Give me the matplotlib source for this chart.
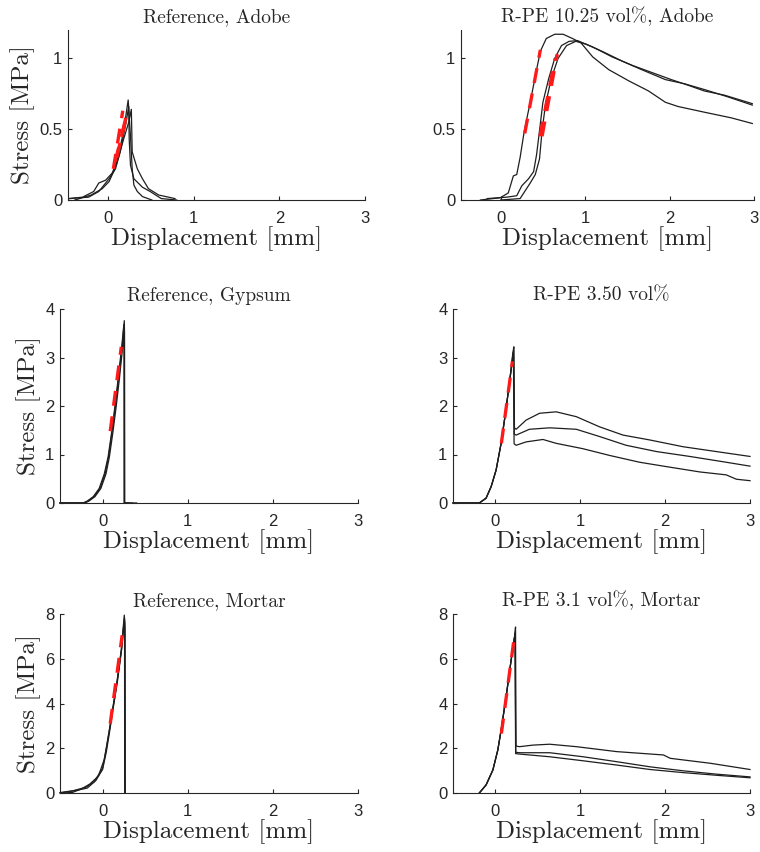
import matplotlib
matplotlib.use('Agg')
import matplotlib.pyplot as plt

plt.rcParams['axes.formatter.use_mathtext'] = True
plt.rcParams['mathtext.fontset'] = 'cm'

# ---------------- data ----------------
titles = ["Reference, Adobe", "R-PE 10.25 vol%, Adobe",
          "Reference, Gypsum", "R-PE 3.50 vol%",
          "Reference, Mortar", "R-PE 3.1 vol%, Mortar"]
x_label = "Displacement [mm]"
y_label = "Stress [MPa]"
x_ticks = [0, 1, 2, 3]
x_tick_labels = ["0", "1", "2", "3"]
y_ticks_adobe = [0, 0.5, 1]
y_tick_labels_adobe = ["0", "0.5", "1"]
y_ticks_gypsum = [0, 1, 2, 3, 4]
y_tick_labels_gypsum = ["0", "1", "2", "3", "4"]
y_ticks_mortar = [0, 2, 4, 6, 8]
y_tick_labels_mortar = ["0", "2", "4", "6", "8"]

# Panel 1: Reference, Adobe
ref_adobe_1_x = [-0.46, -0.3, -0.17, -0.11, -0.03, 0.046, 0.1, 0.16, 0.2, 0.233, 0.26, 0.28, 0.30, 0.34, 0.40, 0.51]
ref_adobe_1_y = [0.01, 0.02, 0.06, 0.12, 0.14, 0.19, 0.27, 0.43, 0.57, 0.706, 0.45, 0.22, 0.105, 0.06, 0.024, 0.0]
ref_adobe_2_x = [-0.39, -0.2, -0.07, 0.01, 0.07, 0.12, 0.18, 0.24, 0.27, 0.28, 0.34, 0.40, 0.47, 0.59, 0.78]
ref_adobe_2_y = [0.0, 0.035, 0.08, 0.13, 0.21, 0.30, 0.43, 0.55, 0.64, 0.34, 0.22, 0.15, 0.08, 0.035, 0.01]
ref_adobe_3_x = [-0.46, -0.23, -0.11, 0.01, 0.085, 0.14, 0.2, 0.24, 0.245, 0.26, 0.30, 0.40, 0.49, 0.62, 0.80]
ref_adobe_3_y = [0.01, 0.02, 0.06, 0.15, 0.22, 0.34, 0.52, 0.66, 0.43, 0.245, 0.15, 0.09, 0.06, 0.01, 0.0]
fit_ref_adobe_x = [[0.06, 0.17], [0.08, 0.21], [0.10, 0.22]]
fit_ref_adobe_y = [[0.22, 0.63], [0.27, 0.58], [0.30, 0.62]]

# Panel 2: R-PE 10.25 vol%, Adobe
rpe_adobe_1_x = [-0.24, -0.004, 0.09, 0.15, 0.19, 0.23, 0.28, 0.35, 0.425, 0.47, 0.54, 0.64, 0.74, 0.85, 0.95,
                 1.09, 1.28, 1.52, 1.75, 1.95, 2.1, 2.41, 2.73, 2.98]
rpe_adobe_1_y = [0.0, 0.016, 0.05, 0.17, 0.18, 0.30, 0.49, 0.69, 0.92, 1.05, 1.14, 1.17, 1.17, 1.14, 1.11,
                 1.01, 0.92, 0.84, 0.77, 0.69, 0.66, 0.62, 0.58, 0.54]
rpe_adobe_2_x = [-0.16, 0.07, 0.19, 0.25, 0.33, 0.39, 0.425, 0.46, 0.50, 0.57, 0.64, 0.72, 0.81, 0.91,
                 1.09, 1.32, 1.56, 1.79, 2.02, 2.22, 2.41, 2.65, 2.98]
rpe_adobe_2_y = [0.01, 0.02, 0.03, 0.10, 0.15, 0.20, 0.32, 0.49, 0.69, 0.86, 1.0, 1.09, 1.12, 1.125,
                 1.08, 1.01, 0.95, 0.90, 0.85, 0.81, 0.77, 0.74, 0.68]
rpe_adobe_3_x = [0.0, 0.23, 0.35, 0.41, 0.46, 0.49, 0.53, 0.60, 0.68, 0.78, 0.89, 1.01, 1.2, 1.44, 1.67,
                 1.95, 2.18, 2.41, 2.68, 2.98]
rpe_adobe_3_y = [0.0, 0.01, 0.12, 0.18, 0.29, 0.49, 0.67, 0.86, 1.0, 1.09, 1.12, 1.10, 1.05, 0.98, 0.92,
                 0.85, 0.82, 0.78, 0.73, 0.67]
fit_rpe_adobe_x = [[0.285, 0.47], [0.465, 0.645], [0.49, 0.67]]
fit_rpe_adobe_y = [[0.47, 1.06], [0.45, 1.00], [0.45, 1.03]]

# Panel 3: Reference, Gypsum
ref_gyp_1_x = [-0.5, -0.22, -0.17, -0.1, -0.03, 0.03, 0.07, 0.11, 0.15, 0.19, 0.23, 0.255, 0.258, 0.26, 0.40]
ref_gyp_1_y = [0.0, 0.0, 0.04, 0.13, 0.30, 0.60, 0.95, 1.44, 1.99, 2.60, 3.22, 3.76, 3.5, 0.0, 0.0]
ref_gyp_2_x = [-0.5, -0.21, -0.16, -0.09, -0.02, 0.04, 0.08, 0.12, 0.16, 0.20, 0.235, 0.25, 0.252, 0.253, 0.35]
ref_gyp_2_y = [0.0, 0.0, 0.04, 0.13, 0.30, 0.60, 0.95, 1.44, 1.99, 2.60, 3.20, 3.55, 3.3, 0.0, 0.0]
ref_gyp_3_x = [-0.5, -0.23, -0.18, -0.11, -0.04, 0.02, 0.065, 0.105, 0.145, 0.185, 0.225, 0.25, 0.256, 0.257, 0.30]
ref_gyp_3_y = [0.0, 0.0, 0.04, 0.13, 0.30, 0.60, 0.95, 1.44, 1.99, 2.60, 3.22, 3.68, 3.4, 0.0, 0.0]
fit_ref_gyp_x = [[0.09, 0.22]]
fit_ref_gyp_y = [[1.48, 3.22]]

# Panel 4: R-PE 3.50 vol%
rpe_gyp_1_x = [-0.5, -0.19, -0.11, -0.05, 0.008, 0.067, 0.118, 0.165, 0.205, 0.217, 0.224, 0.244, 0.362, 0.52,
               0.716, 0.953, 1.228, 1.504, 1.818, 2.212, 2.605, 3.0]
rpe_gyp_1_y = [0.0, 0.0, 0.10, 0.34, 0.68, 1.23, 1.85, 2.47, 3.09, 3.22, 1.55, 1.52, 1.71, 1.85,
               1.88, 1.78, 1.57, 1.40, 1.30, 1.16, 1.06, 0.96]
rpe_gyp_2_x = [-0.5, -0.19, -0.11, -0.05, 0.008, 0.067, 0.118, 0.165, 0.205, 0.215, 0.222, 0.244, 0.40, 0.64,
               0.953, 1.228, 1.54, 1.90, 2.29, 2.685, 3.0]
rpe_gyp_2_y = [0.0, 0.0, 0.10, 0.34, 0.68, 1.23, 1.85, 2.47, 3.05, 3.15, 1.42, 1.40, 1.52, 1.55,
               1.52, 1.37, 1.19, 1.06, 0.96, 0.85, 0.76]
rpe_gyp_3_x = [-0.5, -0.19, -0.11, -0.05, 0.008, 0.067, 0.118, 0.165, 0.205, 0.212, 0.22, 0.244, 0.362, 0.56,
               0.716, 1.03, 1.347, 1.70, 2.015, 2.41, 2.72, 2.84, 3.0]
rpe_gyp_3_y = [0.0, 0.0, 0.10, 0.34, 0.68, 1.23, 1.85, 2.47, 3.0, 3.1, 1.22, 1.19, 1.26, 1.31,
               1.23, 1.12, 0.98, 0.84, 0.75, 0.64, 0.58, 0.49, 0.46]
fit_rpe_gyp_x = [[0.07, 0.20]]
fit_rpe_gyp_y = [[1.23, 2.92]]

# Panel 5: Reference, Mortar
ref_mor_1_x = [-0.5, -0.35, -0.2, -0.1, 0.0, 0.04, 0.08, 0.12, 0.17, 0.22, 0.255, 0.262, 0.265]
ref_mor_1_y = [0.02, 0.10, 0.25, 0.50, 1.10, 1.90, 2.80, 3.80, 5.00, 6.40, 7.95, 7.6, 0.0]
ref_mor_2_x = [-0.45, -0.35, -0.25, -0.15, -0.05, 0.02, 0.07, 0.12, 0.17, 0.22, 0.25, 0.258, 0.26]
ref_mor_2_y = [0.0, 0.03, 0.18, 0.40, 0.75, 1.50, 2.60, 3.75, 4.95, 6.35, 7.60, 7.3, 0.0]
ref_mor_3_x = [-0.5, -0.3, -0.18, -0.08, 0.0, 0.045, 0.085, 0.125, 0.175, 0.225, 0.257, 0.263, 0.266]
ref_mor_3_y = [0.0, 0.12, 0.22, 0.55, 1.05, 1.85, 2.80, 3.80, 5.00, 6.45, 7.80, 7.4, 0.0]
fit_ref_mor_x = [[0.09, 0.23]]
fit_ref_mor_y = [[3.1, 7.05]]

# Panel 6: R-PE 3.1 vol%, Mortar
rpe_mor_1_x = [-0.19, -0.11, -0.03, 0.028, 0.067, 0.126, 0.185, 0.225, 0.237, 0.242, 0.284, 0.44, 0.639,
               0.955, 1.428, 1.98, 2.06, 2.53, 3.0]
rpe_mor_1_y = [0.0, 0.36, 1.03, 1.92, 2.81, 4.30, 5.94, 6.98, 7.42, 2.10, 2.07, 2.14, 2.18,
               2.07, 1.85, 1.70, 1.55, 1.33, 1.05]
rpe_mor_2_x = [-0.19, -0.11, -0.03, 0.028, 0.067, 0.126, 0.185, 0.225, 0.232, 0.24, 0.284, 0.639, 1.033,
               1.428, 1.822, 2.217, 2.611, 3.0]
rpe_mor_2_y = [0.0, 0.36, 1.03, 1.92, 2.81, 4.30, 5.94, 6.98, 7.15, 1.82, 1.80, 1.80, 1.62,
               1.40, 1.17, 0.99, 0.84, 0.72]
rpe_mor_3_x = [-0.19, -0.11, -0.03, 0.028, 0.067, 0.126, 0.185, 0.222, 0.23, 0.238, 0.284, 0.639, 1.033,
               1.428, 1.822, 2.217, 2.611, 3.0]
rpe_mor_3_y = [0.0, 0.36, 1.03, 1.92, 2.81, 4.30, 5.94, 6.90, 7.0, 1.76, 1.74, 1.62, 1.44,
               1.25, 1.05, 0.91, 0.79, 0.68]
fit_rpe_mor_x = [[0.07, 0.215]]
fit_rpe_mor_y = [[2.66, 6.76]]

# ---------------- figure ----------------
W, H = 760, 852
fig = plt.figure(figsize=(W / 100, H / 100), dpi=100)

INK = '#262626'
LINE = '#1e1e1e'
RED = '#ff1a1a'
serif = ['cmr10', 'DejaVu Serif']
sans = ['Liberation Sans', 'DejaVu Sans']


def add_ax(x0, x1, y0, y1):
    return fig.add_axes([x0 / W, 1 - y1 / H, (x1 - x0) / W, (y1 - y0) / H])


panels = [
    dict(box=(68, 365, 30, 200), xlim=(-0.47, 3), ylim=(0, 1.2),
         yt=y_ticks_adobe, ytl=y_tick_labels_adobe, ylab=True,
         curves=[(ref_adobe_1_x, ref_adobe_1_y), (ref_adobe_2_x, ref_adobe_2_y), (ref_adobe_3_x, ref_adobe_3_y)],
         fits=(fit_ref_adobe_x, fit_ref_adobe_y), title=titles[0]),
    dict(box=(461, 754, 30, 200), xlim=(-0.47, 3), ylim=(0, 1.2),
         yt=y_ticks_adobe, ytl=y_tick_labels_adobe, ylab=False,
         curves=[(rpe_adobe_1_x, rpe_adobe_1_y), (rpe_adobe_2_x, rpe_adobe_2_y), (rpe_adobe_3_x, rpe_adobe_3_y)],
         fits=(fit_rpe_adobe_x, fit_rpe_adobe_y), title=titles[1]),
    dict(box=(60, 358, 309, 503), xlim=(-0.5, 3), ylim=(0, 4),
         yt=y_ticks_gypsum, ytl=y_tick_labels_gypsum, ylab=True,
         curves=[(ref_gyp_1_x, ref_gyp_1_y), (ref_gyp_2_x, ref_gyp_2_y), (ref_gyp_3_x, ref_gyp_3_y)],
         fits=(fit_ref_gyp_x, fit_ref_gyp_y), title=titles[2]),
    dict(box=(453, 750, 309, 503), xlim=(-0.5, 3), ylim=(0, 4),
         yt=y_ticks_gypsum, ytl=y_tick_labels_gypsum, ylab=False,
         curves=[(rpe_gyp_1_x, rpe_gyp_1_y), (rpe_gyp_2_x, rpe_gyp_2_y), (rpe_gyp_3_x, rpe_gyp_3_y)],
         fits=(fit_rpe_gyp_x, fit_rpe_gyp_y), title=titles[3]),
    dict(box=(60, 358, 614, 793), xlim=(-0.5, 3), ylim=(0, 8),
         yt=y_ticks_mortar, ytl=y_tick_labels_mortar, ylab=True,
         curves=[(ref_mor_1_x, ref_mor_1_y), (ref_mor_2_x, ref_mor_2_y), (ref_mor_3_x, ref_mor_3_y)],
         fits=(fit_ref_mor_x, fit_ref_mor_y), title=titles[4]),
    dict(box=(453, 750, 614, 793), xlim=(-0.5, 3), ylim=(0, 8),
         yt=y_ticks_mortar, ytl=y_tick_labels_mortar, ylab=False,
         curves=[(rpe_mor_1_x, rpe_mor_1_y), (rpe_mor_2_x, rpe_mor_2_y), (rpe_mor_3_x, rpe_mor_3_y)],
         fits=(fit_rpe_mor_x, fit_rpe_mor_y), title=titles[5]),
]

for p in panels:
    ax = add_ax(*p['box'])
    for cx, cy in p['curves']:
        ax.plot(cx, cy, color=LINE, lw=0.9, zorder=2, clip_on=False)
    fx, fy = p['fits']
    for sx, sy in zip(fx, fy):
        ax.plot(sx, sy, color=RED, lw=2.4, linestyle=(0, (4.5, 3.2)),
                solid_capstyle='butt', dash_capstyle='butt', zorder=3)
    ax.set_xlim(*p['xlim'])
    ax.set_ylim(*p['ylim'])
    ax.set_xticks(x_ticks)
    ax.set_xticklabels(x_tick_labels)
    ax.set_yticks(p['yt'])
    ax.set_yticklabels(p['ytl'])
    for s in ('top', 'right'):
        ax.spines[s].set_visible(False)
    for s in ('left', 'bottom'):
        ax.spines[s].set_color(INK)
        ax.spines[s].set_linewidth(0.8)
    ax.tick_params(direction='in', length=3, width=0.8, colors=INK, labelsize=12)
    ax.tick_params(axis='x', pad=8)
    ax.tick_params(axis='y', pad=4)
    for lab in ax.get_xticklabels() + ax.get_yticklabels():
        lab.set_fontfamily(sans)
    ax.set_title(p['title'], fontsize=14, family=serif, color=INK, pad=6)
    ax.set_xlabel(x_label, fontsize=18, family=serif, color=INK, labelpad=0)
    if p['ylab']:
        ax.set_ylabel(y_label, fontsize=18, family=serif, color=INK, labelpad=3)

fig.savefig('out.png', dpi=100)
